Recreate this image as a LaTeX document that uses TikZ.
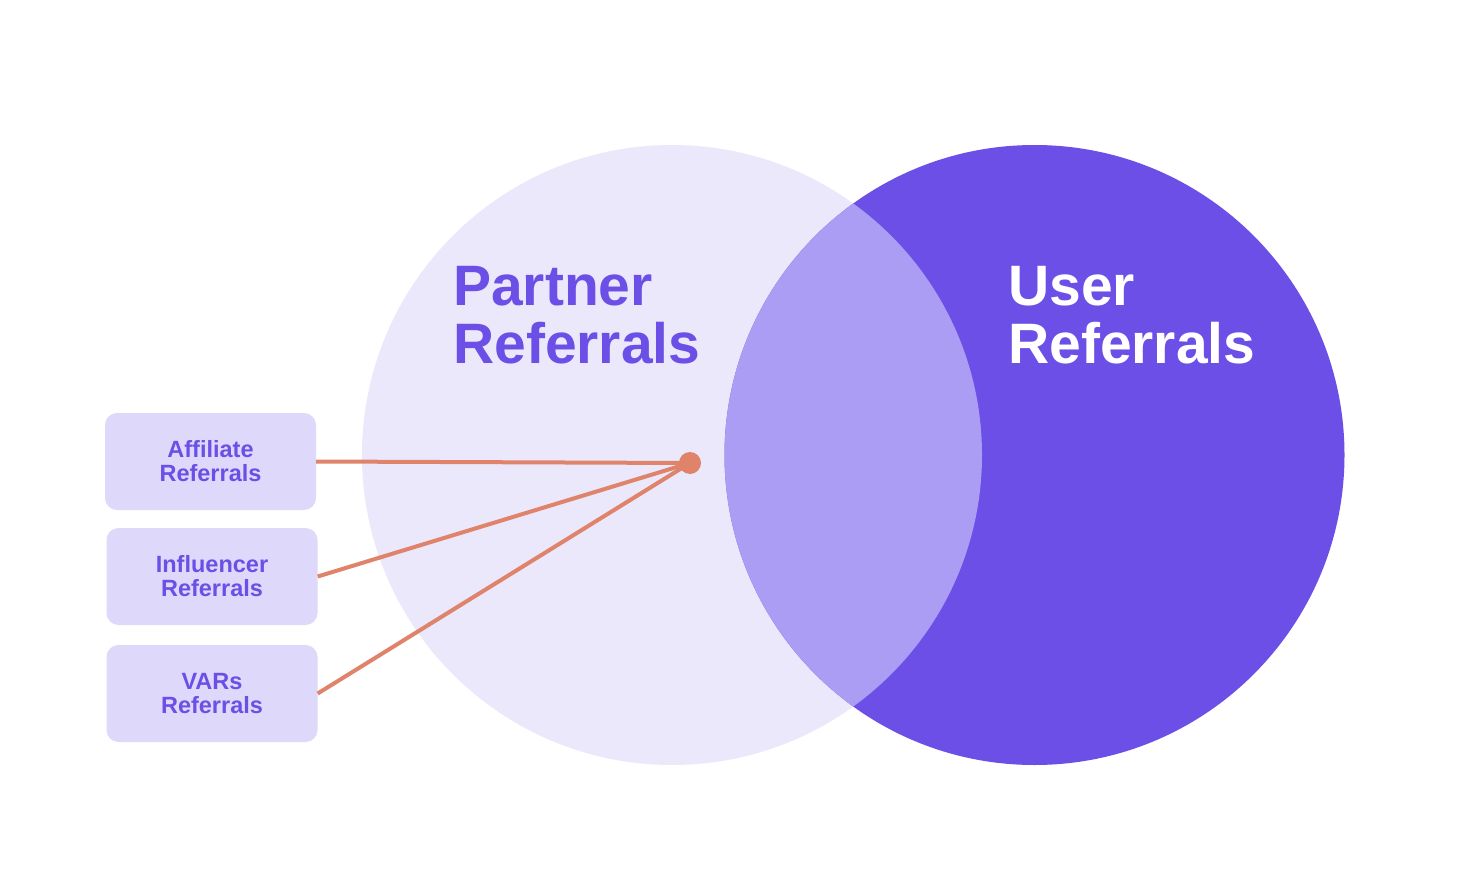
\documentclass[tikz,border=0pt]{standalone}
\usepackage{fontspec}
\setmainfont{Liberation Sans}
\usepackage{xcolor}
\definecolor{brandpurple}{HTML}{6B4FE6}
\definecolor{palelilac}{HTML}{EBE8FB}
\definecolor{midlilac}{HTML}{AB9DF3}
\definecolor{boxlilac}{HTML}{DED8FA}
\definecolor{coral}{HTML}{E0836B}

\begin{document}
\begin{tikzpicture}[x=1pt,y=-1pt,
    setcircle/.style={circle,minimum size=620pt,inner sep=0pt},
    biglabel/.style={font=\fontsize{57}{58}\selectfont\bfseries,align=left,
        inner sep=0pt,anchor=west},
    refbox/.style={fill=boxlilac,rounded corners=12pt,minimum width=211pt,
        minimum height=97pt,inner sep=0pt,align=center,text=brandpurple,
        font=\fontsize{23.5}{24}\selectfont\bfseries},
    link/.style={draw=coral,line width=4pt}]
    \fill[white] (0,0) rectangle (1470,888);
    \useasboundingbox (0,0) rectangle (1470,888);
    % the two sets
    \node[setcircle,fill=palelilac] (partner) at (672,455) {};
    \node[setcircle,fill=brandpurple] (user) at (1034.5,455) {};
    \begin{scope}
      \clip (partner.center) circle (310);
      \fill[midlilac] (user.center) circle (310);
    \end{scope}
    \node[biglabel,text=brandpurple] (partnerlabel) at (453,315) {Partner\\Referrals};
    \node[biglabel,text=white] (userlabel) at (1008,315) {User\\Referrals};
    % partner channels
    \node[refbox] (affiliate) at (210.5,461.5) {Affiliate\\Referrals};
    \node[refbox] (influencer) at (212,576.5) {Influencer\\Referrals};
    \node[refbox] (vars) at (212,693.5) {VARs\\Referrals};
    \coordinate (hub) at (690,463);
    \draw[link] (affiliate.east) -- (hub);
    \draw[link] (influencer.east) -- (hub);
    \draw[link] (vars.east) -- (hub);
    \node[circle,fill=coral,minimum size=22pt,inner sep=0pt] (hubdot) at (hub) {};
\end{tikzpicture}
\end{document}
